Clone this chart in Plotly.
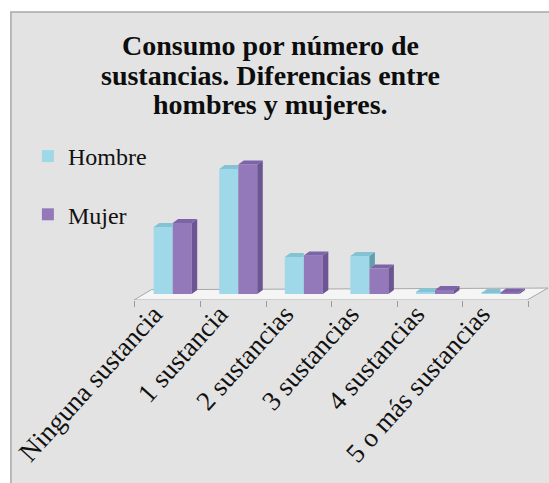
import plotly.graph_objects as go

# ---------------- data ----------------
categories = ["Ninguna sustancia", "1 sustancia", "2 sustancias",
              "3 sustancias", "4 sustancias", "5 o más sustancias"]
hombre = [24.8, 46.3, 13.7, 14.1, 0.7, 0.4]
mujer = [26.3, 48.0, 14.3, 9.4, 1.5, 0.6]
series_names = ["Hombre", "Mujer"]
title_lines = ["Consumo por número de", "sustancias. Diferencias entre",
               "hombres y mujeres."]

# ---------------- styling / geometry ----------------
W, H = 549, 483
L_M, T_M = 134, 150
PX_PER_X = 65.5          # pixels per category
PX_PER_Y = 2.70          # pixels per unit
PLOT_W = W - L_M - 1.4
PLOT_H = 150
B_M = H - T_M - PLOT_H
X0 = -0.515
X1 = X0 + PLOT_W / PX_PER_X
Y0 = -6 / PX_PER_Y
Y1 = Y0 + PLOT_H / PX_PER_Y

BAR_W = 0.29
OFF_H, OFF_M = -0.07, 0.22
DX = 5.5 / PX_PER_X       # depth offset (x)
DY = 4.0 / PX_PER_Y       # depth offset (y)

col_front = {"Hombre": "#9fd8e8", "Mujer": "#9479ba"}
col_top = {"Hombre": "#84c3d3", "Mujer": "#7d63a8"}
col_side = {"Hombre": "#5f9fae", "Mujer": "#6b5592"}

FONT = "Liberation Serif"


def px_to_paper_x(px):
    return (px - L_M) / PLOT_W


def px_to_paper_y(py):
    return (H - B_M - py) / PLOT_H


fig = go.Figure()

xs = list(range(len(categories)))
xh = [i + OFF_H for i in xs]
xm = [i + OFF_M for i in xs]

fig.add_trace(go.Bar(x=xh, y=hombre, width=BAR_W, name=series_names[0],
                     marker=dict(color=col_front["Hombre"], line=dict(width=0)),
                     legendgroup="h"))
fig.add_trace(go.Bar(x=xm, y=mujer, width=BAR_W, name=series_names[1],
                     marker=dict(color=col_front["Mujer"], line=dict(width=0)),
                     legendgroup="m"))


def faces(xc_list, vals, other_vals, clip):
    tx, ty, sx, sy = [], [], [], []
    for k, (xc, v) in enumerate(zip(xc_list, vals)):
        xl, xr = xc - BAR_W / 2, xc + BAR_W / 2
        if clip and other_vals[k] >= v:
            tx += [xl, xr, xr, xl + DX, xl, None]
            ty += [v, v, v + DY, v + DY, v, None]
        else:
            tx += [xl, xr, xr + DX, xl + DX, xl, None]
            ty += [v, v, v + DY, v + DY, v, None]
        if clip:
            if v > other_vals[k]:
                b = other_vals[k]
                sx += [xr, xr + DX, xr + DX, xr, xr, None]
                sy += [b, b + DY, v + DY, v, b, None]
        else:
            sx += [xr, xr + DX, xr + DX, xr, xr, None]
            sy += [0, DY, v + DY, v, 0, None]
    return tx, ty, sx, sy


for name, xc, vals, other, clip in [("Hombre", xh, hombre, mujer, True),
                                     ("Mujer", xm, mujer, None, False)]:
    tx, ty, sx, sy = faces(xc, vals, other if other else vals, clip)
    if sx:
        fig.add_trace(go.Scatter(x=sx, y=sy, fill="toself", mode="lines",
                                 line=dict(width=0), fillcolor=col_side[name],
                                 hoverinfo="skip", showlegend=False))
    fig.add_trace(go.Scatter(x=tx, y=ty, fill="toself", mode="lines",
                             line=dict(width=0), fillcolor=col_top[name],
                             hoverinfo="skip", showlegend=False))

shapes = [
    # chart frame
    dict(type="rect", xref="paper", yref="paper", layer="below",
         x0=px_to_paper_x(11), x1=px_to_paper_x(570),
         y0=px_to_paper_y(500), y1=px_to_paper_y(12),
         fillcolor="#e3e3e3", line=dict(color="#a8a8a8", width=1.5)),
    # floor
    dict(type="path", xref="x", yref="y", layer="below",
         path=f"M {X0} {Y0} L {len(categories) - 0.52} {Y0} "
              f"L {len(categories) - 0.2} {2.2} L {-0.25} {1.6} Z",
         fillcolor="#f5f5f5", line=dict(color="#a8a8a8", width=1)),
]

title_centers_px = [45, 75, 104]
annotations = [
    dict(text=f"<b>{line}</b>", xref="paper", yref="paper",
         x=px_to_paper_x(270), y=px_to_paper_y(cy), xanchor="center",
         yanchor="middle", showarrow=False,
         font=dict(family=FONT, size=28, color="#0d0d0d"))
    for line, cy in zip(title_lines, title_centers_px)
]

fig.update_layout(
    width=W, height=H,
    margin=dict(l=L_M, r=W - L_M - PLOT_W, t=T_M, b=B_M, pad=0),
    paper_bgcolor="white", plot_bgcolor="rgba(0,0,0,0)",
    barmode="overlay",
    showlegend=True,
    shapes=shapes,
    annotations=annotations,
    legend=dict(x=px_to_paper_x(28), y=px_to_paper_y(134), xanchor="left",
                yanchor="top", bgcolor="rgba(0,0,0,0)",
                font=dict(family=FONT, size=24, color="#111111"),
                tracegroupgap=24, itemwidth=30),
    xaxis=dict(range=[X0, X1], tickvals=xs, ticktext=categories,
               tickangle=-48, ticks="", showgrid=False, zeroline=False,
               showline=False, ticklabelshift=-14, ticklabelstandoff=-8,
               tickfont=dict(family=FONT, size=27, color="#111111"),
               minor=dict(tickvals=[i - 0.5 for i in range(len(categories) + 1)],
                          ticks="outside", ticklen=6, tickcolor="#9a9a9a",
                          tickwidth=1, showgrid=False)),
    yaxis=dict(range=[Y0, Y1], visible=False, showgrid=False, zeroline=False),
)

fig.write_html("out.html", config={"displayModeBar": False})

# remove default browser body margin so the figure sits at the page origin
with open("out.html", "r", encoding="utf-8") as f:
    html = f.read()
html = html.replace("<body>", '<body style="margin:0;padding:0;">', 1)
with open("out.html", "w", encoding="utf-8") as f:
    f.write(html)
